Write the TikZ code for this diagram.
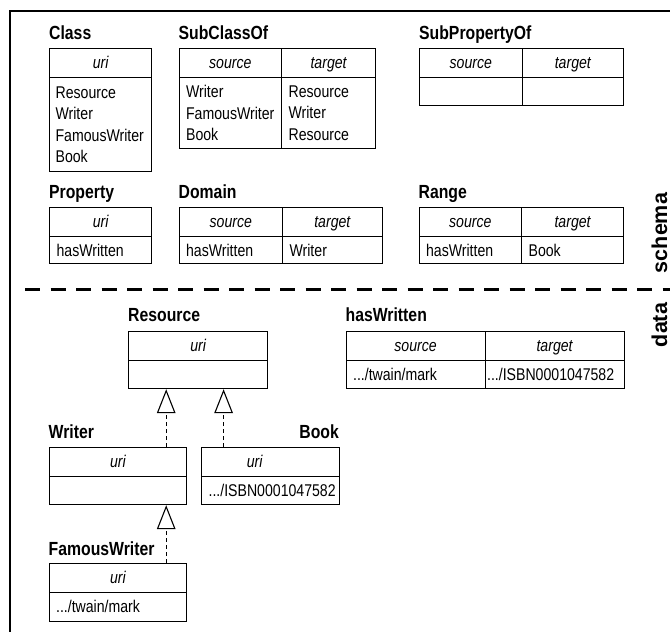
\documentclass[tikz,border=0pt]{standalone}
\usepackage{fontspec}
\setmainfont{Liberation Sans}[FakeStretch=0.83]
\newfontfamily\sidefont{Liberation Sans}
\usetikzlibrary{arrows.meta}

\tikzset{
  tabtitle/.style={anchor=base west, inner sep=0pt, font=\bfseries\fontsize{19}{21}\selectfont},
  hcell/.style={draw, line width=1.2pt, anchor=north west, inner sep=0pt,
    minimum width=#1, minimum height=29pt, text height=12.5pt, text depth=1pt,
    font=\itshape\fontsize{17}{20}\selectfont},
  bcell/.style n args={3}{draw, line width=1.2pt, anchor=north west,
    inner ysep=0pt, inner xsep=#3, text width=#1, minimum height=#2,
    align=left, font=\fontsize{17}{21.3}\selectfont},
  inherits/.style={line width=1.1pt, dash pattern=on 4pt off 3pt,
    -{Triangle[length=24pt, width=18.6pt, fill=white, line width=1.1pt]}},
  sidelabel/.style={rotate=90, anchor=base, inner sep=0pt,
    font=\sidefont\bfseries\fontsize{21.5}{24}\selectfont},
}

\begin{document}
\begin{tikzpicture}[x=1pt, y=-1pt]
\useasboundingbox (0,0) rectangle (670,632);

% outer frame
\draw[line width=2pt] (10,632) -- (10,11) -- (670,11);

% ---------- schema tables ----------
% Class
\node[tabtitle] (class-t) at (49,39.5) {Class};
\node[hcell=102pt] (class-h) at (49,48) {uri};
\node[bcell={90pt}{94pt}{6pt}] (class-b) at (49,77) {Resource\\Writer\\FamousWriter\\Book};

% SubClassOf
\node[tabtitle] (sub-t) at (178.5,39.5) {SubClassOf};
\node[hcell=102.5pt] (sub-hs) at (178.5,48) {source};
\node[hcell=94pt] (sub-ht) at (281,48) {target};
\node[bcell={88.5pt}{71pt}{7pt}] (sub-bs) at (178.5,77) {Writer\\FamousWriter\\Book};
\node[bcell={80pt}{71pt}{7pt}] (sub-bt) at (281,77) {Resource\\Writer\\Resource};

% SubPropertyOf
\node[tabtitle] (subp-t) at (419,39.5) {SubPropertyOf};
\node[hcell=102.5pt] (subp-hs) at (419,48) {source};
\node[hcell=101.5pt] (subp-ht) at (521.5,48) {target};
\node[bcell={88.5pt}{28pt}{7pt}] (subp-bs) at (419,77) {};
\node[bcell={87.5pt}{28pt}{7pt}] (subp-bt) at (521.5,77) {};

% Property
\node[tabtitle] (prop-t) at (49,198.5) {Property};
\node[hcell=102pt] (prop-h) at (49,207) {uri};
\node[bcell={88pt}{27pt}{7pt}] (prop-b) at (49,236) {hasWritten};

% Domain
\node[tabtitle] (dom-t) at (178.5,198.5) {Domain};
\node[hcell=103.5pt] (dom-hs) at (178.5,207) {source};
\node[hcell=99.5pt] (dom-ht) at (282,207) {target};
\node[bcell={89.5pt}{27pt}{7pt}] (dom-bs) at (178.5,236) {hasWritten};
\node[bcell={85.5pt}{27pt}{7pt}] (dom-bt) at (282,236) {Writer};

% Range
\node[tabtitle] (rng-t) at (418.5,198.5) {Range};
\node[hcell=102.5pt] (rng-hs) at (418.5,207) {source};
\node[hcell=102pt] (rng-ht) at (521,207) {target};
\node[bcell={88.5pt}{27pt}{7pt}] (rng-bs) at (418.5,236) {hasWritten};
\node[bcell={88pt}{27pt}{7pt}] (rng-bt) at (521,236) {Book};

% ---------- schema / data separator ----------
\draw[line width=3pt, dash pattern=on 15pt off 10.5pt] (25,289) -- (670,289);
\node[sidelabel] (schema-l) at (667,233) {schema};
\node[sidelabel] (data-l) at (667,325) {data};

% ---------- data tables ----------
% Resource
\node[tabtitle] (res-t) at (128,321) {Resource};
\node[hcell=139pt] (res-h) at (128,330.5) {uri};
\node[bcell={125pt}{28.5pt}{7pt}] (res-b) at (128,359.5) {};

% hasWritten
\node[tabtitle] (hw-t) at (345.5,321) {hasWritten};
\node[hcell=139pt] (hw-hs) at (345.5,330.5) {source};
\node[hcell=139pt] (hw-ht) at (484.5,330.5) {target};
\node[bcell={125pt}{28.5pt}{7pt}] (hw-bs) at (345.5,359.5) {.../twain/mark};
\node[bcell={135pt}{28.5pt}{2pt}] (hw-bt) at (484.5,359.5) {.../ISBN0001047582};

% Writer
\node[tabtitle] (wri-t) at (48.5,438.5) {Writer};
\node[hcell=137.5pt] (wri-h) at (48.5,447) {uri};
\node[bcell={123.5pt}{28pt}{7pt}] (wri-b) at (48.5,476) {};

% Book
\node[tabtitle, anchor=base east] (book-t) at (339,438.5) {Book};
\node[hcell=138pt] (book-h) at (201,447) {uri\hspace*{32pt}};
\node[bcell={124pt}{28pt}{7pt}] (book-b) at (201,476) {.../ISBN0001047582};

% FamousWriter
\node[tabtitle] (fw-t) at (48.5,555) {FamousWriter};
\node[hcell=137.5pt] (fw-h) at (48.5,563) {uri};
\node[bcell={123.5pt}{28.5pt}{7pt}] (fw-b) at (48.5,592) {.../twain/mark};

% ---------- inheritance connectors ----------
\coordinate (wri-up) at ([xshift=-21pt]wri-h.north east);
\coordinate (book-up) at ([xshift=22.6pt]book-h.north west);
\coordinate (fw-up) at ([xshift=-21pt]fw-h.north east);
\draw[inherits] (wri-up) -- (wri-up |- res-b.south);
\draw[inherits] (book-up) -- (book-up |- res-b.south);
\draw[inherits] (fw-up) -- (fw-up |- wri-b.south);
\end{tikzpicture}
\end{document}
